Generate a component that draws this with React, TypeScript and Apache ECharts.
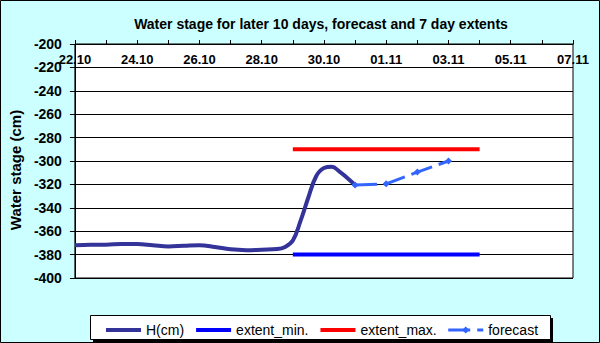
import React, { useEffect, useRef } from "react";
import * as echarts from "echarts";

// ---- data ----
const xTickLabels = ["22.10", "24.10", "26.10", "28.10", "30.10", "01.11", "03.11", "05.11", "07.11"];

const hTimes = [
  "22.10 00:00", "22.10 12:00", "23.10 00:00", "23.10 12:00", "24.10 00:00", "24.10 12:00",
  "25.10 00:00", "25.10 12:00", "26.10 00:00", "26.10 12:00", "27.10 00:00", "27.10 12:00",
  "28.10 00:00", "28.10 12:00", "28.10 18:00", "29.10 00:00", "29.10 06:00", "29.10 12:00",
  "29.10 18:00", "30.10 00:00", "30.10 06:00", "30.10 12:00", "30.10 18:00", "31.10 00:00",
];
const hValues = [
  -372, -371.5, -371.5, -371, -371, -372,
  -373, -372.5, -372, -373.5, -375.5, -376.2,
  -375.8, -375.3, -373.5, -368, -351, -331,
  -313, -306, -305, -309, -314.5, -320.5,
];

const forecastTimes = ["31.10 00:00", "01.11 00:00", "02.11 00:00", "03.11 00:00"];
const forecastValues = [-320.5, -319.5, -309.5, -300];

const extentTimes = ["29.10 00:00", "04.11 00:00"];
const extentMinValues = [-380, -380];
const extentMaxValues = [-290, -290];

const YEAR = 2010;
const BASE = Date.UTC(YEAR, 9, 22, 0, 0);

function toDay(s: string): number {
  const [d, t] = s.split(" ");
  const [dd, mm] = d.split(".").map(Number);
  const [hh, mi] = (t || "00:00").split(":").map(Number);
  return (Date.UTC(YEAR, mm - 1, dd, hh, mi) - BASE) / 86400000;
}

function pairs(times: string[], vals: number[]) {
  return times.map((t, i) => [toDay(t), vals[i]]);
}

const FONT = "'Liberation Sans', Arial, sans-serif";

export default function App() {
  const ref = useRef<HTMLDivElement>(null);

  useEffect(() => {
    document.body.style.margin = "0";
    const chart = echarts.init(ref.current!, null, { renderer: "svg" });
    chart.setOption({
      animation: false,
      backgroundColor: "#CCFFFF",
      textStyle: { fontFamily: FONT },
      title: {
        text: "Water stage for later 10 days, forecast and 7 day extents",
        left: 316,
        textAlign: "center",
        top: 12,
        textStyle: { fontFamily: FONT, fontSize: 14, fontWeight: "bold", color: "#000" },
      },
      graphic: [
        {
          type: "rect",
          z: 0,
          shape: { x: 0.5, y: 0.5, width: 599, height: 342 },
          style: { fill: "none", stroke: "#000", lineWidth: 1 },
        },
        {
          type: "rect",
          z: 0,
          shape: { x: 93, y: 318, width: 460, height: 24 },
          style: { fill: "#000" },
        },
        {
          type: "rect",
          z: 1,
          shape: { x: 90.5, y: 315.5, width: 460, height: 24 },
          style: { fill: "#fff", stroke: "#000", lineWidth: 1 },
        },
      ],
      legend: {
        z: 5,
        left: 104,
        top: 323,
        padding: 0,
        itemGap: 10,
        itemWidth: 35,
        itemHeight: 9,
        textStyle: { fontFamily: FONT, fontSize: 14, color: "#000" },
        data: [
          { name: "H(cm)", itemStyle: { opacity: 0 }, lineStyle: { width: 4, color: "#333399" } },
          { name: "extent_min.", itemStyle: { opacity: 0 }, lineStyle: { width: 4, color: "#0000FF" } },
          { name: "extent_max.", itemStyle: { opacity: 0 }, lineStyle: { width: 4, color: "#FF0000" } },
          { name: "forecast", lineStyle: { width: 3, color: "#3366FF" } },
        ],
      },
      grid: {
        left: 67,
        right: 27,
        top: 44,
        bottom: 65,
        show: true,
        backgroundColor: "#fff",
        borderColor: "#000",
        borderWidth: 1,
      },
      xAxis: {
        type: "value",
        position: "top",
        min: 0,
        max: 16,
        interval: 1,
        axisLine: { show: true, onZero: false, lineStyle: { color: "#000", width: 1 } },
        axisTick: { show: true, inside: false, length: 4, lineStyle: { color: "#000" } },
        splitLine: { show: false },
        axisLabel: {
          inside: true,
          margin: 9,
          showMinLabel: true,
          showMaxLabel: true,
          fontFamily: FONT,
          fontSize: 13,
          fontWeight: "bold",
          color: "#000",
          formatter: (v: number) => {
            const r = Math.round(v);
            return r % 2 === 0 ? xTickLabels[r / 2] ?? "" : "";
          },
        },
      },
      yAxis: {
        type: "value",
        min: -400,
        max: -200,
        interval: 20,
        name: "Water stage (cm)",
        nameLocation: "middle",
        nameRotate: 90,
        nameGap: 50,
        nameTextStyle: {
          fontFamily: FONT,
          fontSize: 15,
          fontWeight: "bold",
          color: "#000",
          padding: [0, 18, 0, 0],
        },
        axisLine: { show: true, lineStyle: { color: "#000", width: 1 } },
        axisTick: { show: true, inside: false, length: 5, lineStyle: { color: "#000" } },
        splitLine: { show: true, lineStyle: { color: "#000", width: 1 } },
        axisLabel: {
          margin: 13,
          fontFamily: FONT,
          fontSize: 14,
          fontWeight: "bold",
          color: "#000",
        },
      },
      series: [
        {
          name: "H(cm)",
          type: "line",
          data: pairs(hTimes, hValues),
          smooth: 0.4,
          showSymbol: false,
          symbol: "none",
          color: "#333399",
          lineStyle: { color: "#333399", width: 4 },
          z: 3,
        },
        {
          name: "extent_min.",
          type: "line",
          data: pairs(extentTimes, extentMinValues),
          symbol: "none",
          color: "#0000FF",
          lineStyle: { color: "#0000FF", width: 4 },
          z: 2,
        },
        {
          name: "extent_max.",
          type: "line",
          data: pairs(extentTimes, extentMaxValues),
          symbol: "none",
          color: "#FF0000",
          lineStyle: { color: "#FF0000", width: 4 },
          z: 2,
        },
        {
          name: "forecast",
          type: "line",
          data: pairs(forecastTimes, forecastValues),
          symbol: "diamond",
          symbolSize: 7,
          color: "#3366FF",
          itemStyle: { color: "#3366FF" },
          lineStyle: { color: "#3366FF", width: 3, type: [22, 7] },
          z: 4,
        },
      ],
    });
    return () => chart.dispose();
  }, []);

  return <div ref={ref} style={{ width: 600, height: 343 }} />;
}
